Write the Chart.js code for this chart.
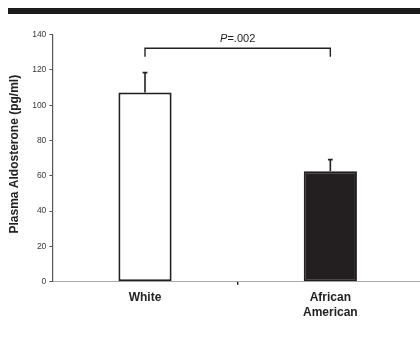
<!DOCTYPE html>
<html>
<head>
<meta charset="utf-8">
<script src="https://cdn.jsdelivr.net/npm/chart.js@4"></script>
<style>
  html, body { margin: 0; padding: 0; background: #fff; }
  body { width: 420px; height: 338px; overflow: hidden; position: relative; }
  #band { position: absolute; left: 8px; top: 8px; width: 412px; height: 6px; background: #1b1b1b; }
  #wrap { position: absolute; left: 0; top: 0; width: 424px; height: 338px; }
</style>
</head>
<body>
<div id="wrap"><canvas id="c" width="424" height="338"></canvas></div>
<div id="band"></div>
<script>
// Plasma aldosterone by group (mean ± SE, pg/ml)
const groups = ['White', ['African', 'American']];
const aldosterone = [107.3, 62.6];
const standardError = [11.2, 6.6];
const yTicks = [0, 20, 40, 60, 80, 100, 120, 140];
const yTitle = 'Plasma Aldosterone (pg/ml)';
const pValueLabel = { prefix: 'P', rest: '=.002' };
const bracketLevel = 132.3;   // y value of the comparison bracket
const bracketDrop = 4.8;      // how far the bracket legs reach down

const ink = '#222';
const family = '"Liberation Sans", Arial, sans-serif';

const errorBars = {
  id: 'errorBars',
  afterDatasetsDraw(chart) {
    const { ctx, scales: { x, y } } = chart;
    ctx.save();
    ctx.strokeStyle = ink;
    ctx.lineWidth = 1.6;
    aldosterone.forEach((v, i) => {
      const cx = x.getPixelForValue(i);
      const yTop = y.getPixelForValue(v + standardError[i]);
      const yBar = y.getPixelForValue(v);
      ctx.beginPath();
      ctx.moveTo(cx, yBar);
      ctx.lineTo(cx, yTop);
      ctx.moveTo(cx - 2.4, yTop);
      ctx.lineTo(cx + 2.4, yTop);
      ctx.stroke();
    });
    ctx.restore();
  }
};

// Rotated y-axis title, sitting a little above the axis midpoint
const axisTitle = {
  id: 'axisTitle',
  afterDraw(chart) {
    const { ctx, chartArea } = chart;
    const mid = (chartArea.top + chartArea.bottom) / 2 - 4;
    ctx.save();
    ctx.translate(14.5, mid);
    ctx.rotate(-Math.PI / 2);
    ctx.font = 'bold 12px ' + family;
    ctx.fillStyle = ink;
    ctx.textAlign = 'center';
    ctx.textBaseline = 'middle';
    ctx.fillText(yTitle, 0, 0);
    ctx.restore();
  }
};

const comparison = {
  id: 'comparison',
  afterDraw(chart) {
    const { ctx, scales: { x, y } } = chart;
    const x0 = x.getPixelForValue(0);
    const x1 = x.getPixelForValue(1);
    const yb = y.getPixelForValue(bracketLevel);
    const yl = y.getPixelForValue(bracketLevel - bracketDrop);
    ctx.save();
    ctx.strokeStyle = ink;
    ctx.lineWidth = 1.4;
    ctx.beginPath();
    ctx.moveTo(x0, yl);
    ctx.lineTo(x0, yb);
    ctx.lineTo(x1, yb);
    ctx.lineTo(x1, yl);
    ctx.stroke();

    const italic = 'italic 11px ' + family;
    const upright = '11px ' + family;
    ctx.font = italic;
    const w1 = ctx.measureText(pValueLabel.prefix).width;
    ctx.font = upright;
    const w2 = ctx.measureText(pValueLabel.rest).width;
    const cx = (x0 + x1) / 2;
    const start = cx - (w1 + w2) / 2;
    const base = yb - 6.6;
    ctx.fillStyle = ink;
    ctx.textBaseline = 'alphabetic';
    ctx.textAlign = 'left';
    ctx.font = italic;
    ctx.fillText(pValueLabel.prefix, start, base);
    ctx.font = upright;
    ctx.fillText(pValueLabel.rest, start + w1, base);
    ctx.restore();
  }
};

new Chart(document.getElementById('c'), {
  type: 'bar',
  data: {
    labels: groups,
    datasets: [{
      data: aldosterone,
      backgroundColor: ['#ffffff', '#231f20'],
      borderColor: ['#231f20', '#231f20'],
      borderWidth: 2,
      borderSkipped: false,
      categoryPercentage: 1,
      barPercentage: 0.287
    }]
  },
  options: {
    responsive: false,
    animation: false,
    devicePixelRatio: 1,
    layout: { padding: { top: 34.7, right: 1, bottom: 0, left: 0 } },
    plugins: { legend: { display: false }, tooltip: { enabled: false } },
    scales: {
      x: {
        grid: {
          drawOnChartArea: false,
          drawTicks: true,
          tickLength: 3,
          lineWidth: 1.4,
          color: (c) => c.index === 1 ? '#111' : 'rgba(0,0,0,0)'
        },
        border: { color: '#aaa', width: 1 },
        ticks: {
          padding: 6,
          color: ink,
          font: { family: family, size: 12, weight: 'bold' }
        },
        afterFit(s) { s.height = 338 - 281.7; }
      },
      y: {
        min: 0,
        max: 140,
        afterBuildTicks(s) { s.ticks = yTicks.map(v => ({ value: v })); },
        grid: { drawOnChartArea: false, drawTicks: true, tickLength: 3, color: '#555' },
        border: { color: '#555', width: 1.2 },
        ticks: {
          padding: 3,
          color: '#3a3a3a',
          font: { family: family, size: 8.5 }
        },
        afterFit(s) { s.width = 52.35; }
      }
    }
  },
  plugins: [errorBars, comparison, axisTitle]
});
</script>
</body>
</html>
